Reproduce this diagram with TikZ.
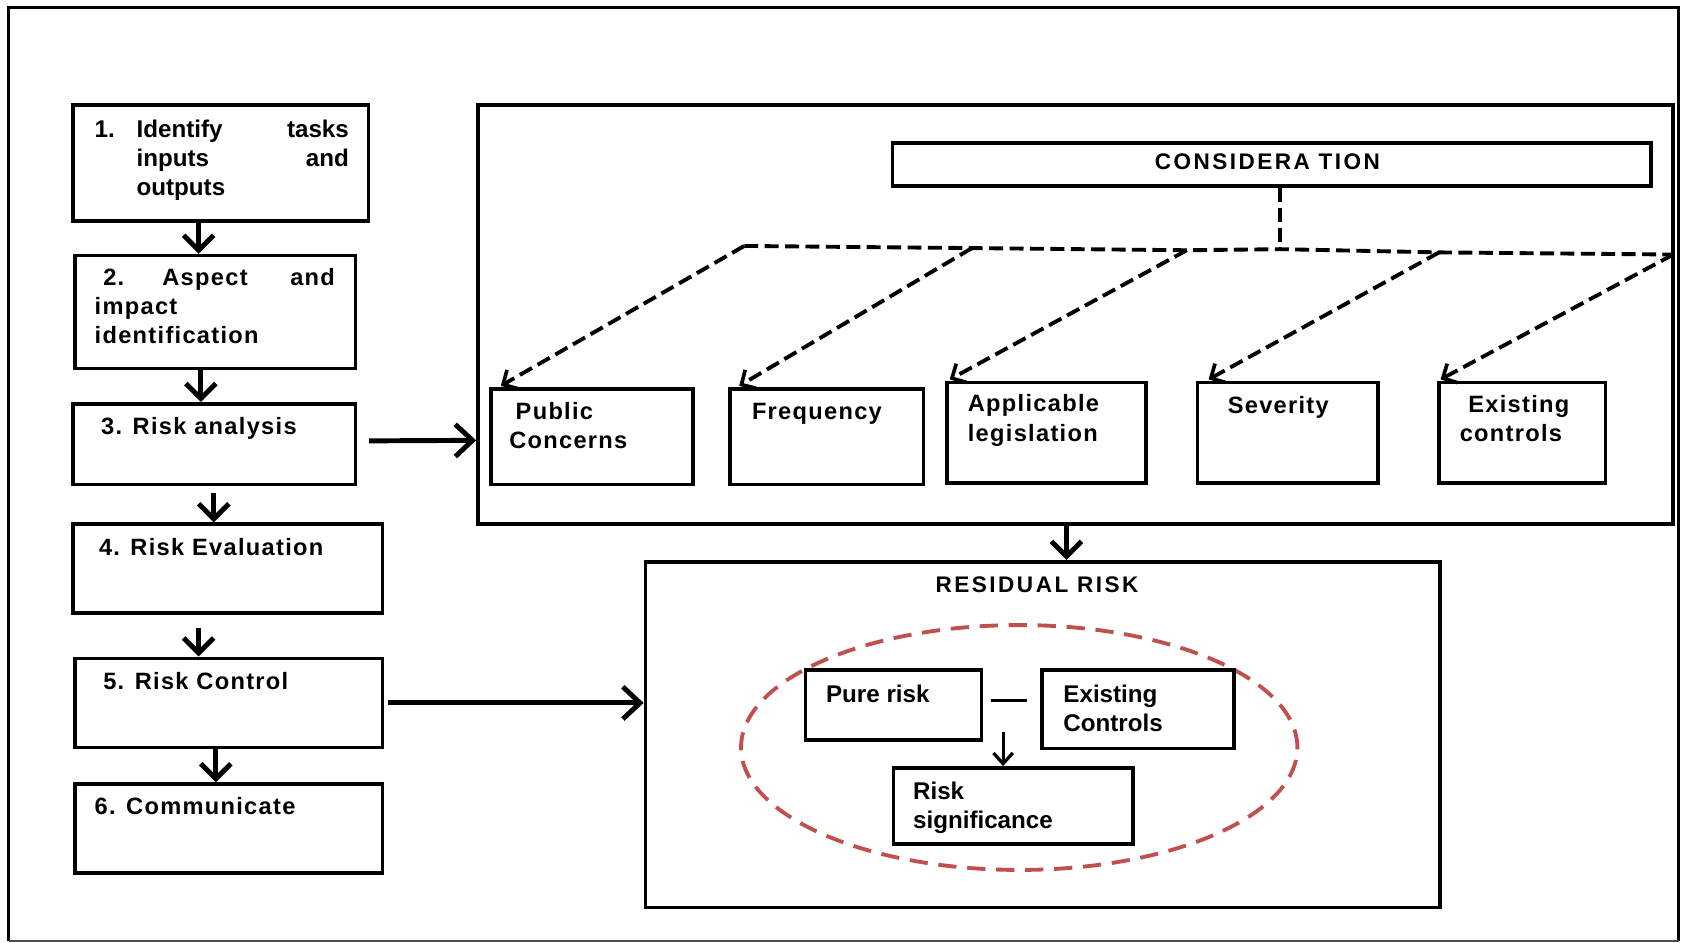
\documentclass[tikz,border=0pt]{standalone}
\usepackage{fontspec}
\setmainfont{Liberation Sans}
\usetikzlibrary{arrows.meta,fit,calc,shapes.geometric}
\definecolor{ringred}{RGB}{192,80,77}
\begin{document}
\begin{tikzpicture}[x=1pt,y=-1pt,
  box/.style={draw, line width=3.4pt, inner sep=0pt},
  lbl/.style={inner sep=0pt, anchor=base west,
    font=\bfseries\fontsize{22}{26}\selectfont\addfontfeature{LetterSpace=5.5}},
  lblr/.style={lbl, anchor=base east},
  tight/.style={font=\bfseries\fontsize{22.5}{26}\selectfont},
  caps/.style={font=\bfseries\fontsize{21}{25}\selectfont\addfontfeature{LetterSpace=11}},
  arr/.style={line width=4.6pt, -{Straight Barb[length=14pt,width=28pt,line width=4.6pt]}},
  harr/.style={line width=4.6pt, -{Straight Barb[length=16pt,width=30pt,line width=4.6pt]}},
  dline/.style={line width=3.6pt, dash pattern=on 13pt off 6pt},
  darr/.style={dline, -{Straight Barb[length=10pt,width=20pt,line width=3.4pt]}},
  thinarr/.style={line width=3pt, -{Straight Barb[length=10pt,width=18pt,line width=3pt]}}
]
\useasboundingbox (0,0) rectangle (1568,878);

% frame
\draw[line width=3.4pt] (8,876) -- (8,7) -- (1563,7) -- (1563,876);
\draw[line width=1.6pt, black!70] (8,876) -- (1563,876);

% process steps
\node[box, fit={(68,98)(343,206)}] (b1) {};
\node[box, fit={(70,238)(331,343)}] (b2) {};
\node[box, fit={(68,376)(331,451)}] (b3) {};
\node[box, fit={(68,488)(356,571)}] (b4) {};
\node[box, fit={(70,613)(356,696)}] (b5) {};
\node[box, fit={(70,730)(356,813)}] (b6) {};

\node[lbl, tight] (t1n) at (88,128) {1.};
\node[lbl, tight] (t1a) at (127,128) {Identify};
\node[lblr, tight] (t1b) at (325,128) {tasks};
\node[lbl, tight] (t1c) at (127,155) {inputs};
\node[lblr, tight] (t1d) at (325,155) {and};
\node[lbl, tight] (t1e) at (127,182) {outputs};

\node[lbl] (t2n) at (96,266) {2.};
\node[lbl] (t2a) at (151,266) {Aspect};
\node[lblr] (t2b) at (312,266) {and};
\node[lbl] (t2c) at (88,293) {impact};
\node[lbl] (t2d) at (88,320) {identification};

\node[lbl] (t3) at (94,405) {3. Risk analysis};
\node[lbl] (t4) at (92,517) {4. Risk Evaluation};
\node[lbl] (t5) at (96,642) {5. Risk Control};
\node[lbl] (t6) at (88,758) {6. Communicate};

\draw[arr] (185,0 |- b1.south) -- (185,0 |- b2.north);
\draw[arr] (187,0 |- b2.south) -- (187,0 |- b3.north);
\draw[arr] ($(199,0 |- b3.south)+(0,6)$) -- (199,0 |- b4.north);
\draw[arr] ($(185,0 |- b4.south)+(0,12)$) -- (185,0 |- b5.north);
\draw[arr] (201,0 |- b5.south) -- (201,0 |- b6.north);

% considerations
\node[box, fit={(445,98)(1558,488)}] (big) {};
\node[box, fit={(831,133)(1537,173)}] (cons) {};
\node[lbl, caps] (tc) at (1075,158) {CONSIDERA TION};

\node[box, fit={(457,362)(645,451)}] (pc) {};
\node[box, fit={(680,362)(860,451)}] (fr) {};
\node[box, fit={(882,356)(1067,450)}] (al) {};
\node[box, fit={(1115,356)(1283,450)}] (sv) {};
\node[box, fit={(1340,356)(1495,450)}] (ex) {};

\node[lbl] (tpc1) at (480,391) {Public};
\node[lbl] (tpc2) at (474,418) {Concerns};
\node[lbl] (tfr) at (700,391) {Frequency};
\node[lbl] (tal1) at (901,383) {Applicable};
\node[lbl] (tal2) at (901,411) {legislation};
\node[lbl] (tsv) at (1143,385) {Severity};
\node[lbl] (tex1) at (1367,384) {Existing};
\node[lbl] (tex2) at (1359,411) {controls};

\coordinate (h0) at (693,229);
\coordinate (h1) at (905,231);
\coordinate (h2) at (1105,233);
\coordinate (hc) at (1192,232);
\coordinate (h3) at (1340,235);
\coordinate (h4) at (1558,237);

\draw[dline] (1192,0 |- cons.south) -- (hc);
\draw[dline] (h0) -- (h1) -- (h2) -- (hc) -- (h3) -- (h4);
\draw[darr] (h0) -- ($(pc.north west)+(11,-1)$);
\draw[darr] (h1) -- ($(fr.north west)+(10,-1)$);
\draw[darr] (h2) -- ($(al.north west)+(4,-1)$);
\draw[darr] (h3) -- ($(sv.north west)+(12,-1)$);
\draw[darr] (h4) -- ($(ex.north west)+(3,-1)$);

\draw[harr] ($(b3.east)+(11,-3)$) -- (big.west |- 0,410);

% residual risk
\node[box, fit={(601,523)(1341,845)}] (rr) {};
\node[lbl, caps] (trr) at (871,552) {RESIDUAL RISK};
\draw[arr] (993,0 |- big.south) -- (993,0 |- rr.north);
\draw[harr] ($(b5.east)+(4,0)$) -- (rr.west |- b5.east);

\node[draw=ringred, ellipse, line width=3.6pt, dash pattern=on 17pt off 10pt,
      minimum width=518pt, minimum height=228pt, inner sep=0pt] (ring) at (949,696) {};

\node[box, fit={(750,624)(914,689)}] (pr) {};
\node[box, fit={(970,624)(1149,697)}] (ec) {};
\node[box, fit={(832,715)(1055,786)}] (rs) {};

\node[lbl, tight] (tpr) at (769,654) {Pure risk};
\node[lbl, tight] (tec1) at (990,654) {Existing};
\node[lbl, tight] (tec2) at (990,681) {Controls};
\node[lbl, tight] (trs1) at (850,744) {Risk};
\node[lbl, tight] (trs2) at (850,771) {significance};

\draw[line width=2.4pt] ($(pr.east)+(7,-4.5)$) -- ($(ec.west)+(-12,-8.5)$);
\coordinate (m) at (934,682);
\draw[thinarr] (m) -- (m |- rs.north);

\end{tikzpicture}
\end{document}
